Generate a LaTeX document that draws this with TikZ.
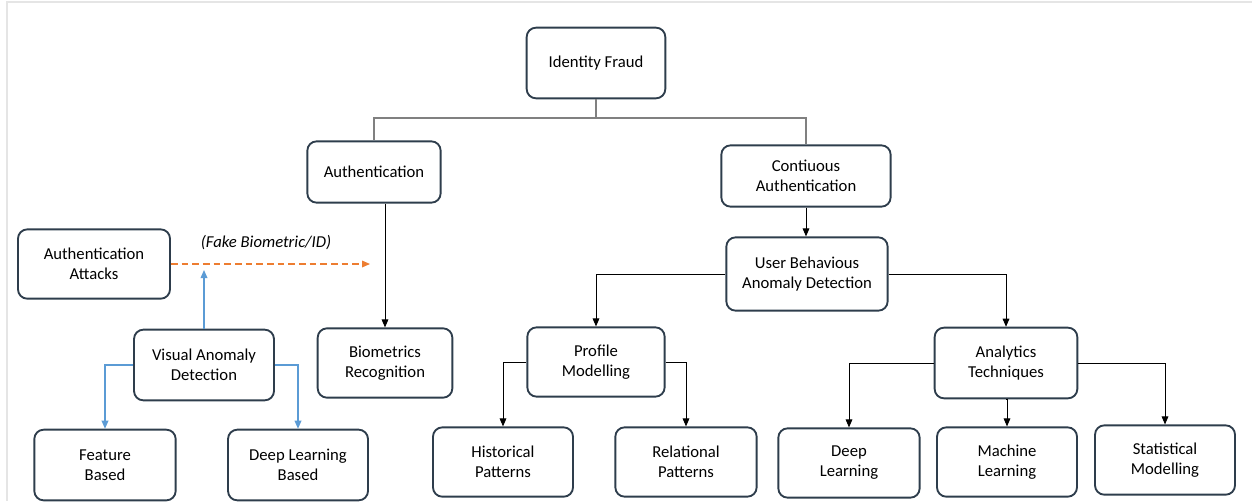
\documentclass[tikz,border=0pt]{standalone}
\usepackage{fontspec}
\setmainfont{Carlito}
\usetikzlibrary{arrows.meta}
\definecolor{boxline}{HTML}{2E3D4C}
\definecolor{linkgray}{HTML}{808080}
\definecolor{attackblue}{HTML}{5B9BD5}
\definecolor{attackorange}{HTML}{ED7D31}

\tikzset{
  box/.style={draw=boxline, line width=1.4pt, rounded corners=7pt, align=center,
    inner sep=2pt, font=\fontsize{12.5}{15}\selectfont},
  link/.style={draw=linkgray, line width=1pt},
  arr/.style={draw=black, line width=0.7pt, -{Triangle[length=6pt,width=5pt]}},
  bluearr/.style={draw=attackblue, line width=0.9pt, -{Triangle[length=6pt,width=5pt]}},
  fakearr/.style={draw=attackorange, line width=0.9pt, dash pattern=on 5pt off 3pt,
    -{Triangle[length=6pt,width=5pt]}}
}

\begin{document}
\begin{tikzpicture}[x=0.75pt,y=-0.75pt]
\useasboundingbox (0,0) rectangle (1252,501);
\draw[gray!20, line width=0.8pt] (7,501) -- (7,2) -- (1252,2);

% top levels
\node[box, minimum width=104pt, minimum height=53pt] (F) at (596,63) {Identity Fraud};
\node[box, minimum width=100pt, minimum height=46pt] (A) at (374,172) {Authentication};
\node[box, minimum width=127pt, minimum height=46pt] (C) at (806,176) {Contiuous\\Authentication};
\node[box, minimum width=121pt, minimum height=55pt] (U) at (807,274) {User Behavious\\Anomaly Detection};

% attacks side
\node[box, minimum width=114pt, minimum height=52pt] (K) at (94,264) {Authentication\\Attacks};
\node[box, minimum width=105pt, minimum height=53pt] (V) at (204,365) {Visual Anomaly\\Detection};
\node[box, minimum width=101pt, minimum height=52pt] (B) at (385,363) {Biometrics\\Recognition};
\node[box, minimum width=106pt, minimum height=53pt] (Fe) at (105,465) {Feature\\Based};
\node[box, minimum width=105pt, minimum height=53pt] (Dl) at (298,465) {Deep Learning\\Based};

% behaviour side
\node[box, minimum width=103pt, minimum height=52pt] (P) at (596,362) {Profile\\Modelling};
\node[box, minimum width=107pt, minimum height=53pt] (T) at (1006,363) {Analytics\\Techniques};
\node[box, minimum width=105pt, minimum height=52pt] (H) at (503,462) {Historical\\Patterns};
\node[box, minimum width=106pt, minimum height=52pt] (R) at (686,462) {Relational\\Patterns};
\node[box, minimum width=106pt, minimum height=52pt] (D) at (849,463) {Deep\\Learning};
\node[box, minimum width=105pt, minimum height=52pt] (M) at (1007,462) {Machine\\Learning};
\node[box, minimum width=105pt, minimum height=52pt] (S) at (1165,460) {Statistical\\Modelling};

\coordinate (split) at (596,118);
\draw[link] (F) -- (split);
\draw[link] (split) -| (A);
\draw[link] (split) -| (C);

\draw[arr] (A.south -| B.north) -- (B.north);
\draw[arr] (C.south) -- (C.south |- U.north);
\draw[arr] (U.west) -| (P.north);
\draw[arr] (U.east) -| (T.north);
\draw[arr] (P.west) -| (H.north);
\draw[arr] (P.east) -| (R.north);
\draw[arr] (T.west) -| (D.north);
\draw[arr] (T.south) -- (T.south -| M.north) -- (M.north);
\draw[arr] (T.east) -| (S.north);

\coordinate (vtip) at (204,270);
\coordinate (ftip) at (370,264);
\draw[bluearr] (V.north) -- (vtip);
\draw[bluearr] (V.west) -| (Fe.north);
\draw[bluearr] (V.east) -| (Dl.north);
\draw[fakearr] (K.east) -- (ftip);
\node[font=\fontsize{12.5}{14}\selectfont\itshape] (fake) at (266,243) {(Fake Biometric/ID)};
\end{tikzpicture}
\end{document}
